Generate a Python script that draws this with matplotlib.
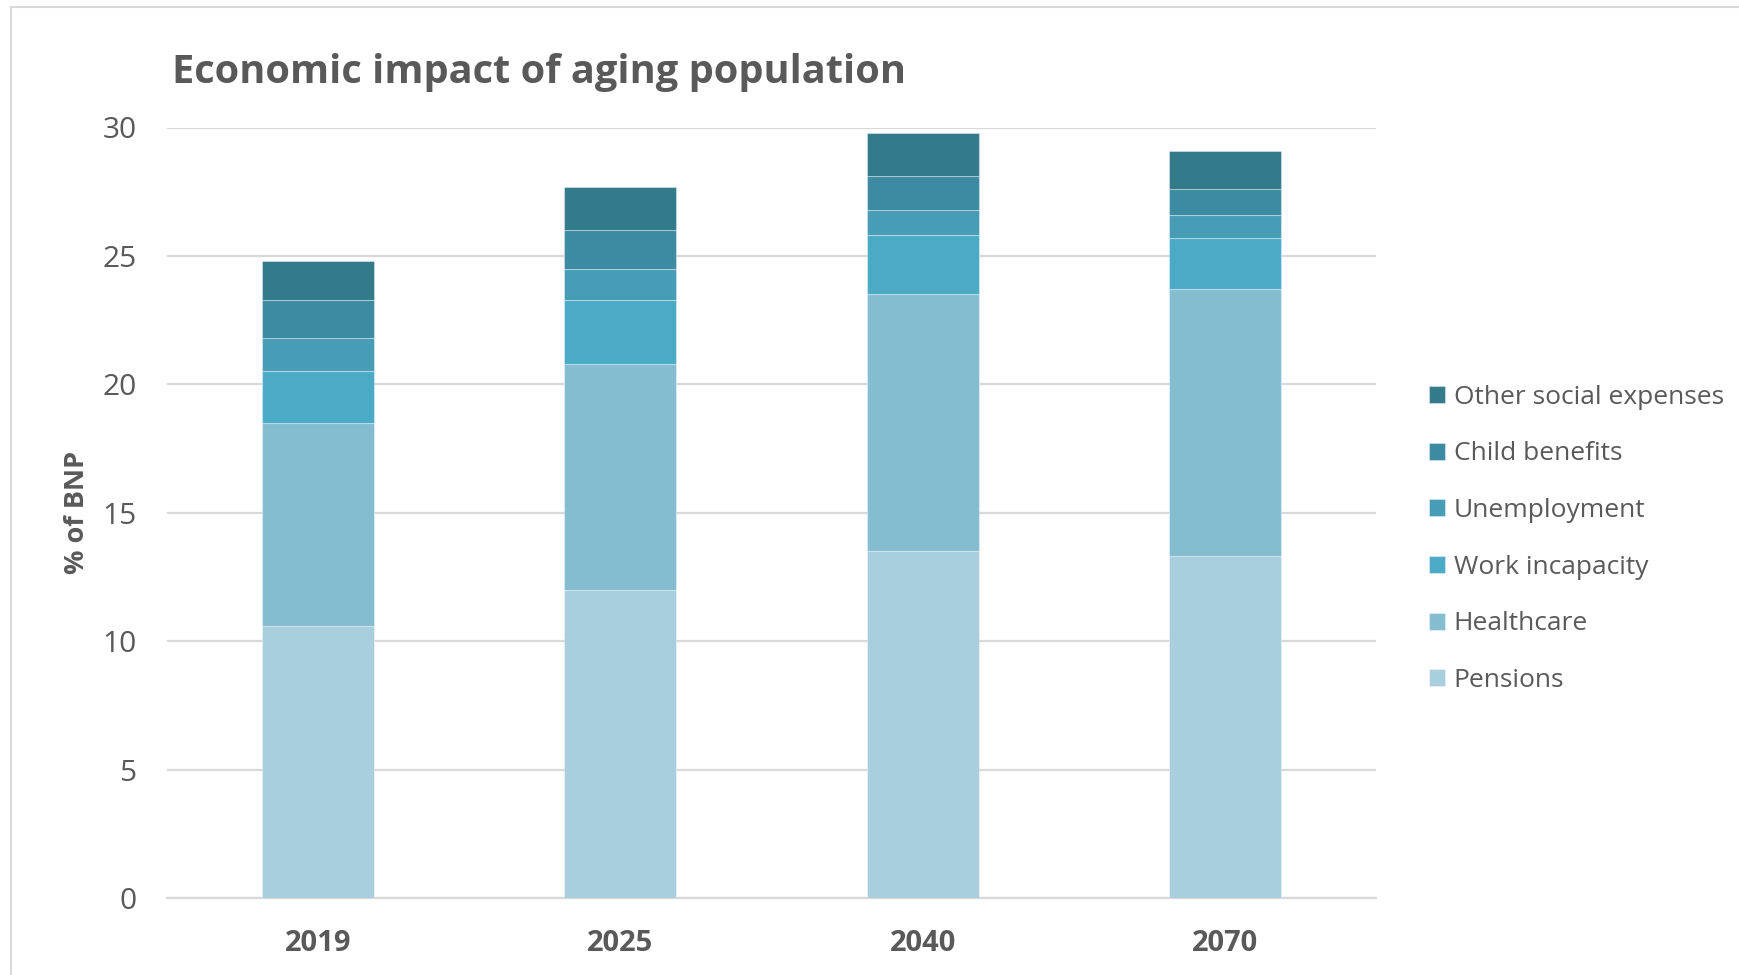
import matplotlib
matplotlib.use("Agg")
import matplotlib.pyplot as plt
import numpy as np
from matplotlib.lines import Line2D

plt.rcParams['font.family'] = ['Open Sans', 'DejaVu Sans']

years = ["2019", "2025", "2040", "2070"]
series_names = ["Pensions", "Healthcare", "Work incapacity", "Unemployment",
                "Child benefits", "Other social expenses"]
pensions = [10.6, 12.0, 13.5, 13.3]
healthcare = [7.9, 8.8, 10.0, 10.4]
work_incapacity = [2.0, 2.5, 2.3, 2.0]
unemployment = [1.3, 1.2, 1.0, 0.9]
child_benefits = [1.5, 1.5, 1.3, 1.0]
other_social = [1.5, 1.7, 1.7, 1.5]
yticks = [0, 5, 10, 15, 20, 25, 30]

series_values = [pensions, healthcare, work_incapacity, unemployment,
                 child_benefits, other_social]
colors = ["#A9CEDE", "#85BDD0", "#4BABC6", "#469DB5", "#3C8BA2", "#337A8B"]

W, H = 1739, 975
fig = plt.figure(figsize=(W / 100, H / 100), dpi=100)
ax = fig.add_axes([167 / W, 1 - 898 / H, (1376 - 167) / W, (898 - 127.5) / H])

x = np.arange(len(years))
bottom = np.zeros(len(years))
handles = []
for name, vals, c in zip(series_names, series_values, colors):
    b = ax.bar(x, vals, width=0.37, bottom=bottom, color=c, label=name,
               edgecolor=(1, 1, 1, 0.35), linewidth=0.8, zorder=3)
    bottom += np.array(vals)
    handles.append(b)

ax.set_xlim(-0.5, len(years) - 0.5)
ax.set_ylim(0, 30)
ax.set_yticks(yticks)
ax.set_yticklabels([str(t) for t in yticks], fontsize=21.5, color="#595959")
ax.set_xticks(x)
ax.set_xticklabels(years, fontsize=21, fontweight="bold", color="#595959")
ax.tick_params(axis="both", length=0)
ax.tick_params(axis="y", pad=22)
ax.tick_params(axis="x", pad=22)
ax.yaxis.grid(True, color="#D9D9D9", linewidth=1.6, zorder=0)
ax.set_axisbelow(True)
for s in ["top", "right", "left"]:
    ax.spines[s].set_visible(False)
ax.spines["bottom"].set_color("#D9D9D9")
ax.spines["bottom"].set_linewidth(1.6)

ax.set_ylabel("% of BNP", fontsize=19.5, fontweight="bold", color="#595959")
ax.yaxis.set_label_coords(-0.064, 0.5)

fig.text(172 / W, 1 - 72 / H, "Economic impact of aging population", fontsize=28.6,
         fontweight="bold", color="#595959", ha="left", va="center")

leg = ax.legend(handles[::-1], series_names[::-1], loc="center left",
                bbox_to_anchor=(1.024, 0.466), frameon=False, fontsize=19,
                handlelength=0.6, handleheight=0.6, handletextpad=0.35,
                labelspacing=1.2, labelcolor="#595959")

# outer chart border
fig.add_artist(Line2D([11 / W, 11 / W], [0, 1 - 7 / H], transform=fig.transFigure,
                      color="#D9D9D9", linewidth=1.5))
fig.add_artist(Line2D([11 / W, 1], [1 - 7 / H, 1 - 7 / H], transform=fig.transFigure,
                      color="#D9D9D9", linewidth=1.5))

fig.savefig("out.png", dpi=100, facecolor="white")
